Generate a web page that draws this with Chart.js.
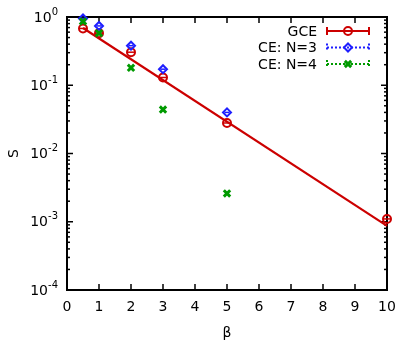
<!DOCTYPE html>
<html>
<head>
<meta charset="utf-8">
<script src="https://cdn.jsdelivr.net/npm/chart.js@4.4.0/dist/chart.umd.min.js"></script>
<style>
  html, body { margin: 0; padding: 0; background: #fff; }
  canvas { display: block; }
</style>
</head>
<body>
<canvas id="chart" width="415" height="344"></canvas>
<script>
// data
const betaGCE = [0.5, 1, 2, 3, 5, 10];
const sGCE = [0.68, 0.58, 0.305, 0.13, 0.028, 0.0011];
const betaFit = [0.5, 10];
const sFit = [0.69, 0.00087];
const betaCE = [0.5, 1, 2, 3, 5];
const sCE3 = [0.95, 0.74, 0.38, 0.172, 0.040];
const sCE4 = [0.86, 0.58, 0.18, 0.044, 0.0026];
const xTicks = [0, 1, 2, 3, 4, 5, 6, 7, 8, 9, 10];
const yExponents = [-4, -3, -2, -1, 0];
const seriesNames = ['GCE', 'CE: N=3', 'CE: N=4'];

const RED = '#cc0000';
const BLUE = '#1e1eff';
const GREEN = '#009a00';
const FONT = '"DejaVu Sans", sans-serif';

function pts(xs, ys) {
    return xs.map((x, i) => ({ x: x, y: ys[i] }));
}

function line(ctx, x1, y1, x2, y2) {
    ctx.beginPath();
    ctx.moveTo(x1, y1);
    ctx.lineTo(x2, y2);
    ctx.stroke();
}

const framePlugin = {
    id: 'frame',
    beforeDatasetsDraw(chart) {
        const { ctx, chartArea: a, scales: { x, y } } = chart;
        ctx.save();
        ctx.strokeStyle = '#000';
        ctx.lineWidth = 1.5;
        xTicks.forEach(v => {
            const px = x.getPixelForValue(v);
            line(ctx, px, a.bottom, px, a.bottom - 6);
            line(ctx, px, a.top, px, a.top + 6);
        });
        yExponents.forEach(e => {
            const py = y.getPixelForValue(Math.pow(10, e));
            line(ctx, a.left, py, a.left + 6, py);
            line(ctx, a.right, py, a.right - 6, py);
            if (e < 0) {
                for (let k = 2; k <= 9; k++) {
                    const pm = y.getPixelForValue(k * Math.pow(10, e));
                    line(ctx, a.left, pm, a.left + 3, pm);
                    line(ctx, a.right, pm, a.right - 3, pm);
                }
            }
        });
        ctx.lineWidth = 2;
        ctx.strokeRect(a.left, a.top, a.width, a.height);
        ctx.restore();
    },
    afterDraw(chart) {
        const { ctx, chartArea: a, scales: { y } } = chart;
        ctx.save();
        ctx.fillStyle = '#000';
        // y tick labels 10^n
        yExponents.forEach(e => {
            const py = y.getPixelForValue(Math.pow(10, e));
            const exp = e < 0 ? '-' + (-e) : String(e);
            ctx.font = '14px ' + FONT;
            const wBase = ctx.measureText('10').width;
            ctx.font = '10px ' + FONT;
            const wExp = ctx.measureText(exp).width;
            const x0 = a.left - 9 - wBase - wExp;
            ctx.textAlign = 'left';
            ctx.textBaseline = 'middle';
            ctx.font = '14px ' + FONT;
            ctx.fillText('10', x0, py + 1);
            ctx.font = '10px ' + FONT;
            ctx.fillText(exp, x0 + wBase, py - 5);
        });
        // axis titles
        ctx.font = '14px ' + FONT;
        ctx.textAlign = 'center';
        ctx.textBaseline = 'middle';
        ctx.fillText('\u03b2', (a.left + a.right) / 2, 333);
        ctx.save();
        ctx.translate(14, (a.top + a.bottom) / 2);
        ctx.rotate(-Math.PI / 2);
        ctx.fillText('S', 0, 0);
        ctx.restore();

        // legend
        const colors = [RED, BLUE, GREEN];
        const styles = ['circle', 'rectRot', 'crossRot'];
        const rows = [31, 47.5, 64];
        ctx.textAlign = 'right';
        seriesNames.forEach((name, i) => {
            const ry = rows[i];
            ctx.fillStyle = '#000';
            ctx.fillText(name, 317, ry + 1);
            ctx.strokeStyle = colors[i];
            ctx.lineWidth = 2;
            ctx.setLineDash(i === 0 ? [] : [2, 2]);
            line(ctx, 327, ry, 369, ry);
            line(ctx, 327, ry - 4, 327, ry + 4);
            line(ctx, 369, ry - 4, 369, ry + 4);
            ctx.setLineDash([]);
            ctx.fillStyle = 'rgba(0,0,0,0)';
            ctx.lineWidth = i === 2 ? 3 : 2;
            Chart.helpers.drawPoint(ctx, {
                pointStyle: styles[i], radius: i === 2 ? 4.5 : 4, borderWidth: i === 2 ? 3 : 2
            }, 348, ry);
        });
        ctx.restore();
    }
};

const ctx = document.getElementById('chart');
new Chart(ctx, {
    type: 'scatter',
    data: {
        datasets: [
            {
                label: 'fit',
                data: pts(betaFit, sFit),
                showLine: true,
                borderColor: RED,
                borderWidth: 2.2,
                pointRadius: 0,
                order: 5,
                clip: false
            },
            {
                label: seriesNames[0],
                data: pts(betaGCE, sGCE),
                pointStyle: 'circle',
                pointRadius: 4,
                borderWidth: 2,
                borderColor: RED,
                backgroundColor: 'rgba(0,0,0,0)',
                order: 4,
                clip: false
            },
            {
                label: 'GCE bars',
                data: pts(betaGCE, sGCE),
                pointStyle: 'line',
                pointRadius: 3.5,
                borderWidth: 1.5,
                borderColor: RED,
                order: 3,
                clip: false
            },
            {
                label: seriesNames[1],
                data: pts(betaCE, sCE3),
                pointStyle: 'rectRot',
                pointRadius: 4,
                borderWidth: 2,
                borderColor: BLUE,
                backgroundColor: 'rgba(0,0,0,0)',
                order: 2,
                clip: false
            },
            {
                label: 'CE3 bars',
                data: pts(betaCE, sCE3),
                pointStyle: 'line',
                pointRadius: 2.5,
                borderWidth: 1.5,
                borderColor: BLUE,
                order: 1,
                clip: false
            },
            {
                label: seriesNames[2],
                data: pts(betaCE, sCE4),
                pointStyle: 'crossRot',
                pointRadius: 4.5,
                borderWidth: 3,
                borderColor: GREEN,
                order: 0,
                clip: false
            }
        ]
    },
    options: {
        responsive: false,
        animation: false,
        devicePixelRatio: 1,
        layout: { padding: { top: 17, right: 28, left: 0, bottom: 0 } },
        plugins: {
            legend: { display: false },
            tooltip: { enabled: false }
        },
        scales: {
            x: {
                type: 'linear',
                min: 0,
                max: 10,
                grid: { display: false, drawTicks: false },
                border: { display: false },
                ticks: {
                    stepSize: 1,
                    autoSkip: false,
                    maxRotation: 0,
                    padding: 9,
                    color: '#000',
                    font: { family: FONT, size: 14 }
                },
                afterFit(s) { s.height = 54; }
            },
            y: {
                type: 'logarithmic',
                min: 1e-4,
                max: 1,
                grid: { display: false, drawTicks: false },
                border: { display: false },
                ticks: { display: false },
                afterFit(s) { s.width = 67; }
            }
        }
    },
    plugins: [framePlugin]
});
</script>
</body>
</html>
